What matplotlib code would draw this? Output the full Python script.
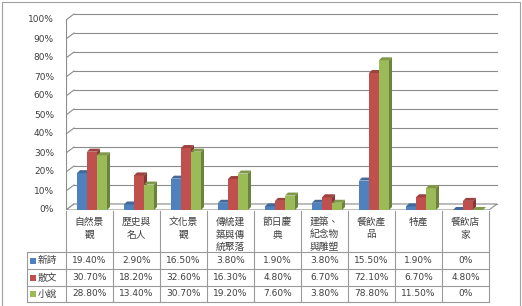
import matplotlib
matplotlib.use("Agg")
import matplotlib.pyplot as plt
from matplotlib.patches import Polygon, Rectangle
import numpy as np

# data
categories = ["自然景觀", "歷史與名人", "文化景觀", "傳統建築與傳統聚落", "節日慶典",
              "建築、紀念物與雕塑", "餐飲產品", "特產", "餐飲店家"]
cat_lines = [["自然景", "觀"], ["歷史與", "名人"], ["文化景", "觀"],
             ["傳統建", "築與傳", "統聚落"], ["節日慶", "典"],
             ["建築、", "紀念物", "與雕塑"], ["餐飲產", "品"], ["特產"], ["餐飲店", "家"]]
series_names = ["新詩", "散文", "小說"]
xinshi = [19.4, 2.9, 16.5, 3.8, 1.9, 3.8, 15.5, 1.9, 0.0]
sanwen = [30.7, 18.2, 32.6, 16.3, 4.8, 6.7, 72.1, 6.7, 4.8]
xiaoshuo = [28.8, 13.4, 30.7, 19.2, 7.6, 3.8, 78.8, 11.5, 0.0]
series = [xinshi, sanwen, xiaoshuo]
colors = ["#4F81BD", "#C0504D", "#9BBB59"]
yticks = [0, 10, 20, 30, 40, 50, 60, 70, 80, 90, 100]

cjk = ["Noto Sans CJK TC", "DejaVu Sans"]
txt_col = "#404040"

W, H = 522, 306
fig = plt.figure(figsize=(W / 100, H / 100), dpi=100)

# layout in pixels
x0, col_w = 66, 47
y0, px_per = 210, 1.9
ax = fig.add_axes([x0 / W, 1 - y0 / H, (500 - x0) / W, 200 / H])
ax.set_xlim(0, (500 - x0) / col_w)
ax.set_ylim(0, 200 / px_per)
ax.axis("off")

# 3d depth (data units)
wdx, wdy = 8 / col_w, 6 / px_per
bdx, bdy = 3 / col_w, 3 / px_per
n = len(categories)
grid_col = "#8c8c8c"

# floor
ax.add_patch(Polygon([(0, 0), (n, 0), (n + wdx, wdy), (wdx, wdy)], closed=True,
                     facecolor="white", edgecolor=grid_col, lw=0.8, zorder=1))
# walls / gridlines
for v in yticks:
    ax.plot([wdx, n + wdx], [v + wdy, v + wdy], color=grid_col, lw=0.8, zorder=0)
    ax.plot([0, wdx], [v, v + wdy], color=grid_col, lw=0.8, zorder=0)
    ax.text(-12 / col_w, v, f"{v}%", ha="right", va="center", fontsize=6.5,
            color=txt_col, clip_on=False)
ax.plot([0, 0], [0, 100], color=grid_col, lw=0.8, zorder=0)


def darker(c, f):
    rgb = np.array(matplotlib.colors.to_rgb(c))
    return tuple(rgb * f)


bw = 10 / col_w
offs = 11 / col_w
xs = np.arange(n)
for k, (vals, c) in enumerate(zip(series, colors)):
    left = xs + offs + k * bw
    ax.bar(left, vals, width=bw, align="edge", color=c, edgecolor="none", zorder=3 + k)
    for xl, v in zip(left, vals):
        ax.add_patch(Polygon([(xl + bw, 0), (xl + bw + bdx, bdy), (xl + bw + bdx, v + bdy),
                              (xl + bw, v)], closed=True, facecolor=darker(c, 0.7),
                             edgecolor="none", zorder=3 + k))
        ax.add_patch(Polygon([(xl, v), (xl + bdx, v + bdy), (xl + bw + bdx, v + bdy),
                              (xl + bw, v)], closed=True, facecolor=darker(c, 0.82),
                             edgecolor="none", zorder=3 + k))

# table overlay
tb = fig.add_axes([0, 0, 1, 1], facecolor="none")
tb.set_xlim(0, W)
tb.set_ylim(H, 0)
tb.axis("off")
line_kw = dict(color="#9a9a9a", lw=0.8)
rows_y = [252, 269, 286, 302]
xr = x0 + n * col_w
for k in range(n + 1):
    tb.plot([x0 + k * col_w] * 2, [211, rows_y[-1]], **line_kw)
for y in rows_y:
    tb.plot([27, xr], [y, y], **line_kw)
tb.plot([27, 27], [rows_y[0], rows_y[-1]], **line_kw)

for i, lines in enumerate(cat_lines):
    cx = x0 + (i + 0.5) * col_w
    for j, s in enumerate(lines):
        tb.text(cx, 222 + 12.5 * j, s, ha="center", va="center", fontsize=7,
                family=cjk, color=txt_col)

for r, (name, vals, c) in enumerate(zip(series_names, series, colors)):
    cy = (rows_y[r] + rows_y[r + 1]) / 2
    tb.add_patch(Rectangle((30, cy - 3), 6, 6, facecolor=c, edgecolor="none"))
    tb.text(38, cy, name, ha="left", va="center", fontsize=7, family=cjk, color=txt_col)
    for i, v in enumerate(vals):
        s = "0%" if v == 0 else f"{v:.2f}%"
        tb.text(x0 + (i + 0.5) * col_w, cy, s, ha="center", va="center",
                fontsize=6.5, color=txt_col)

# outer border
tb.plot([2, 2, 520, 520], [306, 2, 2, 306], color="#a0a0a0", lw=0.8)

fig.savefig("out.png", dpi=100)
